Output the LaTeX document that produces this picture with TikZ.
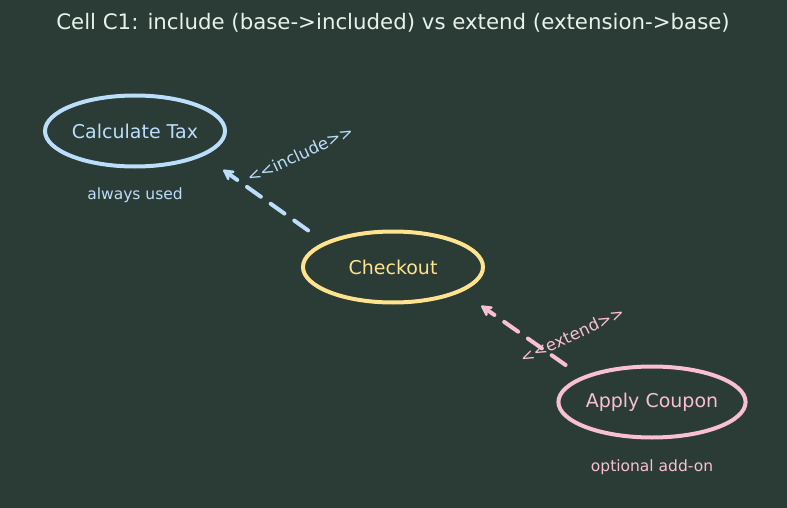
\documentclass[tikz,border=0pt]{standalone}
\usepackage{fontspec}
\setmainfont{DejaVu Sans}
\usetikzlibrary{arrows.meta,shapes.geometric}

\definecolor{bgcol}{HTML}{2B3B35}
\definecolor{titlecol}{HTML}{E6F2EA}
\definecolor{taxcol}{HTML}{BBDEFB}
\definecolor{chkcol}{HTML}{FFE38F}
\definecolor{cpncol}{HTML}{F8C0D2}

\begin{document}
\begin{tikzpicture}[x=1pt,y=-1pt,>={Stealth[round,length=14pt,width=15pt,inset=5pt]},
	usecase/.style={ellipse,draw,line width=4pt,minimum width=180pt,minimum height=71pt,inner sep=0pt,font=\fontsize{19}{21}\selectfont},
	note/.style={anchor=base,font=\fontsize{15.5}{17}\selectfont},
	rel/.style={->,line width=4pt,line cap=round,dash pattern=on 17pt off 12pt,shorten <=20pt,shorten >=24pt},
	stereo/.style={rotate=25,font=\fontsize{16.5}{18}\selectfont}]

\fill[bgcol] (0,0) rectangle (787,508);
\useasboundingbox (0,0) rectangle (787,508);

\node[anchor=base,text=titlecol,font=\fontsize{21.3}{24}\selectfont] (title) at (393,30) {Cell C1: include (base-{}>included) vs extend (extension-{}>base)};

 \node[usecase,draw=taxcol,text=taxcol]   (tax) at (135,131)   {Calculate Tax};
	\node[usecase,draw=chkcol,text=chkcol]   (chk) at (393,267)   {Checkout};
	\node[usecase,draw=cpncol,text=cpncol]   (cpn) at (652,402)   {Apply Coupon};

	\node[note,text=taxcol] (taxnote) at (135,199) {always used};
	\node[note,text=cpncol] (cpnnote) at (652,471) {optional add-on};

	% include: base -> included
	\path (chk.160)  edge[rel,draw=taxcol]  (tax.340)
	% extend: extension -> base
			(cpn.160)  edge[rel,draw=cpncol]  (chk.340);

	\node[stereo,text=taxcol] (inclabel) at (300,154) {<{}<include>{}>};
	\node[stereo,text=cpncol] (extlabel) at (572,335) {<{}<extend>{}>};

\end{tikzpicture}
\end{document}
